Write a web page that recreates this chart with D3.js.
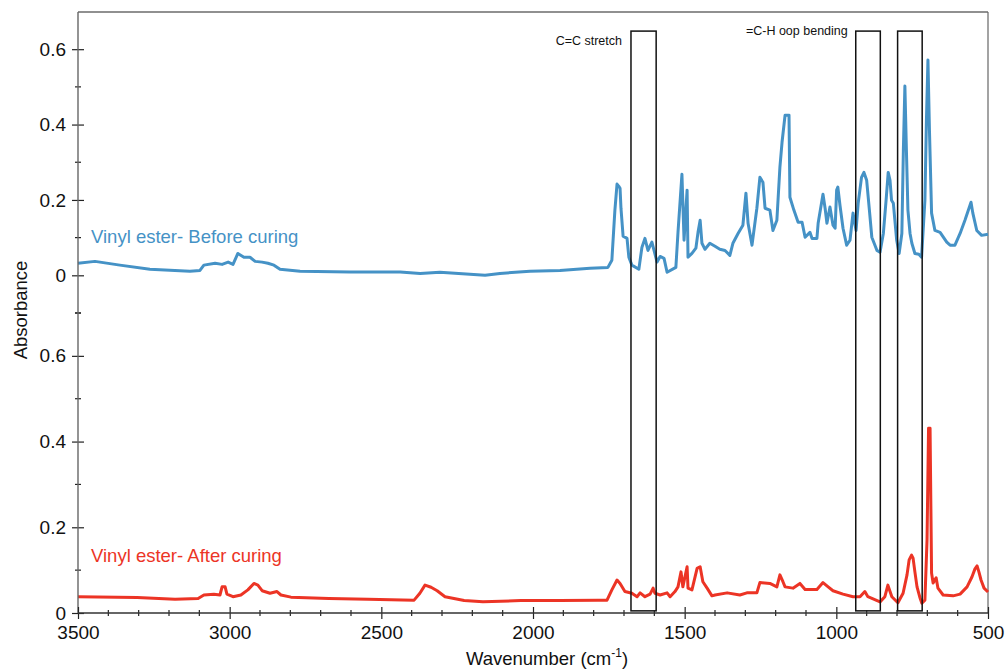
<!DOCTYPE html>
<html>
<head>
<meta charset="utf-8">
<script src="https://cdn.jsdelivr.net/npm/d3@7"></script>
<style>
  body { margin: 0; background: #fff; }
  svg { display: block; }
</style>
</head>
<body>
<svg id="chart" width="1008" height="672"></svg>
<script>
// FTIR absorbance of vinyl ester resin, before and after curing
const beforeWavenumber = [
  3500, 3444, 3362, 3263, 3131, 3098, 3085, 3048, 3025, 3005, 2989, 2973, 2953, 2933, 2916, 2893,
  2874, 2854, 2834, 2768, 2603, 2438, 2372, 2307, 2208, 2158, 2109, 2010, 1911, 1812, 1753, 1740,
  1730, 1723, 1717, 1713, 1710, 1703, 1690, 1684, 1674, 1651, 1641, 1631, 1621, 1608, 1601, 1591,
  1581, 1568, 1558, 1529, 1522, 1509, 1502, 1492, 1489, 1476, 1463, 1456, 1449, 1443, 1433, 1417,
  1400, 1384, 1367, 1351, 1341, 1324, 1308, 1298, 1291, 1278, 1262, 1252, 1242, 1235, 1219, 1209,
  1196, 1186, 1179, 1169, 1156, 1153, 1140, 1126, 1113, 1103, 1087, 1080, 1064, 1060, 1044, 1037,
  1031, 1021, 1011, 1004, 999, 995, 988, 978, 966, 955, 945, 935, 928, 917, 909, 900,
  891, 883, 866, 856, 845, 836, 829, 823, 818, 812, 807, 801, 793, 784, 779, 774,
  769, 764, 757, 751, 741, 728, 719, 708, 703, 698, 693, 686, 675, 658, 636, 625,
  609, 592, 576, 556, 550, 537, 521, 500
];
const beforeAbsorbance = [
  0.032, 0.037, 0.027, 0.016, 0.011, 0.013, 0.027, 0.032, 0.029, 0.035, 0.029, 0.058, 0.048, 0.048, 0.037, 0.035,
  0.032, 0.027, 0.016, 0.011, 0.009, 0.009, 0.005, 0.008, 0.003, 0.000, 0.005, 0.011, 0.013, 0.019, 0.021, 0.040,
  0.173, 0.242, 0.236, 0.231, 0.178, 0.104, 0.098, 0.048, 0.027, 0.016, 0.074, 0.098, 0.066, 0.088, 0.066, 0.035,
  0.050, 0.045, 0.008, 0.021, 0.114, 0.268, 0.093, 0.226, 0.048, 0.058, 0.072, 0.114, 0.146, 0.085, 0.069, 0.085,
  0.077, 0.069, 0.066, 0.053, 0.085, 0.111, 0.133, 0.218, 0.138, 0.080, 0.178, 0.260, 0.247, 0.178, 0.173, 0.119,
  0.146, 0.287, 0.353, 0.425, 0.425, 0.207, 0.173, 0.141, 0.141, 0.101, 0.114, 0.098, 0.098, 0.138, 0.215, 0.178,
  0.138, 0.181, 0.133, 0.125, 0.226, 0.234, 0.186, 0.125, 0.080, 0.093, 0.165, 0.119, 0.191, 0.260, 0.273, 0.252,
  0.173, 0.101, 0.066, 0.061, 0.111, 0.199, 0.273, 0.252, 0.199, 0.191, 0.146, 0.093, 0.058, 0.111, 0.332, 0.502,
  0.332, 0.173, 0.111, 0.085, 0.058, 0.056, 0.048, 0.199, 0.411, 0.571, 0.385, 0.165, 0.119, 0.114, 0.088, 0.080,
  0.080, 0.111, 0.146, 0.194, 0.165, 0.119, 0.106, 0.109
];
const afterWavenumber = [
  3500, 3305, 3180, 3104, 3085, 3052, 3032, 3025, 3015, 3009, 2989, 2963, 2940, 2920, 2907, 2893,
  2867, 2844, 2831, 2798, 2673, 2544, 2392, 2373, 2356, 2336, 2316, 2290, 2227, 2165, 2040, 1911,
  1786, 1756, 1740, 1723, 1713, 1697, 1674, 1657, 1647, 1631, 1614, 1604, 1598, 1581, 1558, 1548,
  1532, 1522, 1512, 1506, 1492, 1489, 1476, 1459, 1449, 1440, 1426, 1410, 1400, 1360, 1318, 1295,
  1262, 1252, 1219, 1196, 1186, 1176, 1169, 1143, 1120, 1103, 1064, 1044, 1027, 1011, 978, 945,
  922, 906, 896, 856, 840, 830, 817, 797, 780, 767, 760, 752, 747, 741, 734, 724,
  718, 708, 701, 696, 691, 686, 681, 671, 665, 648, 615, 592, 569, 553, 543, 536,
  530, 523, 513, 500
];
const afterAbsorbance = [
  0.038, 0.036, 0.032, 0.034, 0.042, 0.044, 0.042, 0.061, 0.061, 0.044, 0.038, 0.042, 0.054, 0.069, 0.065, 0.052,
  0.046, 0.050, 0.042, 0.037, 0.034, 0.032, 0.030, 0.046, 0.065, 0.060, 0.052, 0.038, 0.029, 0.026, 0.029, 0.029,
  0.030, 0.030, 0.054, 0.077, 0.069, 0.050, 0.046, 0.038, 0.047, 0.038, 0.044, 0.058, 0.046, 0.042, 0.047, 0.038,
  0.050, 0.061, 0.096, 0.061, 0.108, 0.058, 0.054, 0.104, 0.108, 0.073, 0.058, 0.040, 0.042, 0.047, 0.042, 0.047,
  0.047, 0.071, 0.069, 0.061, 0.089, 0.073, 0.061, 0.058, 0.069, 0.055, 0.055, 0.071, 0.061, 0.052, 0.044, 0.038,
  0.038, 0.050, 0.038, 0.026, 0.038, 0.065, 0.038, 0.024, 0.046, 0.089, 0.124, 0.135, 0.128, 0.096, 0.061, 0.035,
  0.023, 0.030, 0.170, 0.431, 0.431, 0.093, 0.070, 0.082, 0.058, 0.042, 0.040, 0.044, 0.061, 0.084, 0.103, 0.110,
  0.096, 0.077, 0.058, 0.049
];

const seriesNames = ["Vinyl ester- Before curing", "Vinyl ester- After curing"];
const xMajorTicks = [3500, 3000, 2500, 2000, 1500, 1000, 500];
const xMinorTicks = d3.range(3400, 500, -100).filter(v => v % 500 !== 0);
const yMajorTicks = [0, 0.2, 0.4, 0.6];
const yTopMinorTicks = [-0.1, 0.1, 0.3, 0.5];
const yBottomMinorTicks = [0.1, 0.3, 0.5, 0.7];
// highlighted absorption bands (wavenumber from, to)
const bandRanges = [[1677, 1594], [936, 855], [798, 717]];
const bandLabels = ["C=C stretch", "=C-H oop bending"];

const blue = "#4592c6";
const red = "#ec3425";
const font = "'Liberation Sans', Arial, Helvetica, sans-serif";

const svg = d3.select("#chart");
const left = 78, right = 988;

const x = d3.scaleLinear().domain([3500, 500]).range([left, right]);
const yTop = d3.scaleLinear().domain([-0.1, 0.7]).range([313, 11.5]);
const yBottom = d3.scaleLinear().domain([0, 0.7]).range([613, 313]);

const before = beforeWavenumber.map((w, i) => ({ w, a: beforeAbsorbance[i] }));
const after = afterWavenumber.map((w, i) => ({ w, a: afterAbsorbance[i] }));

// frame: top and right edges
svg.append("line").attr("x1", left).attr("x2", right).attr("y1", 12).attr("y2", 12)
  .attr("stroke", "#222").attr("stroke-width", 1.2);
svg.append("line").attr("x1", right).attr("x2", right).attr("y1", 12).attr("y2", 613)
  .attr("stroke", "#666").attr("stroke-width", 1.2);

// spectra
const lineTop = d3.line().x(d => x(d.w)).y(d => yTop(d.a));
const lineBottom = d3.line().x(d => x(d.w)).y(d => yBottom(d.a));

svg.append("path").datum(before).attr("d", lineTop)
  .attr("fill", "none").attr("stroke", blue).attr("stroke-width", 3)
  .attr("stroke-linejoin", "round");
svg.append("path").datum(after).attr("d", lineBottom)
  .attr("fill", "none").attr("stroke", red).attr("stroke-width", 3)
  .attr("stroke-linejoin", "round");

// band boxes spanning both panels
const bandTop = yTop(0.648), bandBottom = yBottom(0.005);
svg.append("g").selectAll("rect").data(bandRanges).join("rect")
  .attr("x", d => x(d[0]))
  .attr("width", d => x(d[1]) - x(d[0]))
  .attr("y", bandTop)
  .attr("height", bandBottom - bandTop)
  .attr("fill", "none").attr("stroke", "#111").attr("stroke-width", 1.5);

svg.append("text").attr("x", x(bandRanges[0][0]) - 9).attr("y", 45)
  .attr("text-anchor", "end").attr("font-family", font).attr("font-size", 12.5)
  .attr("fill", "#111").text(bandLabels[0]);
svg.append("text").attr("x", x(bandRanges[1][0]) - 8).attr("y", 35)
  .attr("text-anchor", "end").attr("font-family", font).attr("font-size", 12.5)
  .attr("fill", "#111").text(bandLabels[1]);

// series labels
svg.append("text").attr("x", 91).attr("y", 243)
  .attr("font-family", font).attr("font-size", 18.5).attr("fill", blue).text(seriesNames[0]);
svg.append("text").attr("x", 91).attr("y", 562)
  .attr("font-family", font).attr("font-size", 18.5).attr("fill", red).text(seriesNames[1]);

// y axes
const fmt = d => d === 0 ? "0" : d.toFixed(1);
function yAxis(scale, minor) {
  const g = svg.append("g").attr("transform", `translate(${left},0)`);
  g.call(d3.axisLeft(scale).tickValues(yMajorTicks).tickFormat(fmt).tickSize(6).tickPadding(6))
    .call(s => s.select(".domain").remove())
    .call(s => s.selectAll(".tick line").attr("x1", 6).attr("stroke", "#222").attr("stroke-width", 1.2))
    .call(s => s.selectAll(".tick text").attr("font-family", font).attr("font-size", 19).attr("fill", "#111"));
  g.selectAll(".minor").data(minor).join("line").attr("class", "minor")
    .attr("x1", -3).attr("x2", 3)
    .attr("y1", d => scale(d)).attr("y2", d => scale(d))
    .attr("stroke", "#222").attr("stroke-width", 1.2);
}
yAxis(yTop, yTopMinorTicks);
yAxis(yBottom, yBottomMinorTicks);
svg.append("line").attr("x1", left).attr("x2", left).attr("y1", 12).attr("y2", 613)
  .attr("stroke", "#666").attr("stroke-width", 1.4);

// x axis
const gx = svg.append("g").attr("transform", "translate(0,613)");
gx.call(d3.axisBottom(x).tickValues(xMajorTicks).tickFormat(d3.format("d")).tickSize(6).tickPadding(7))
  .call(s => s.select(".domain").remove())
  .call(s => s.selectAll(".tick line").attr("y1", -6).attr("stroke", "#222").attr("stroke-width", 1.2))
  .call(s => s.selectAll(".tick text").attr("font-family", font).attr("font-size", 19).attr("fill", "#111"));
gx.selectAll(".minor").data(xMinorTicks).join("line").attr("class", "minor")
  .attr("x1", d => x(d)).attr("x2", d => x(d))
  .attr("y1", -3).attr("y2", 3)
  .attr("stroke", "#222").attr("stroke-width", 1.2);
svg.append("line").attr("x1", left).attr("x2", right).attr("y1", 613).attr("y2", 613)
  .attr("stroke", "#333").attr("stroke-width", 1.4);

// axis titles
svg.append("text").attr("transform", "translate(27,310) rotate(-90)")
  .attr("text-anchor", "middle").attr("font-family", font).attr("font-size", 18.5)
  .attr("fill", "#111").text("Absorbance");
const xt = svg.append("text").attr("x", 547).attr("y", 665)
  .attr("text-anchor", "middle").attr("font-family", font).attr("font-size", 18.5).attr("fill", "#111");
xt.append("tspan").text("Wavenumber (cm");
xt.append("tspan").attr("dy", -8).attr("font-size", 12).text("-1");
xt.append("tspan").attr("dy", 8).text(")");
</script>
</body>
</html>
